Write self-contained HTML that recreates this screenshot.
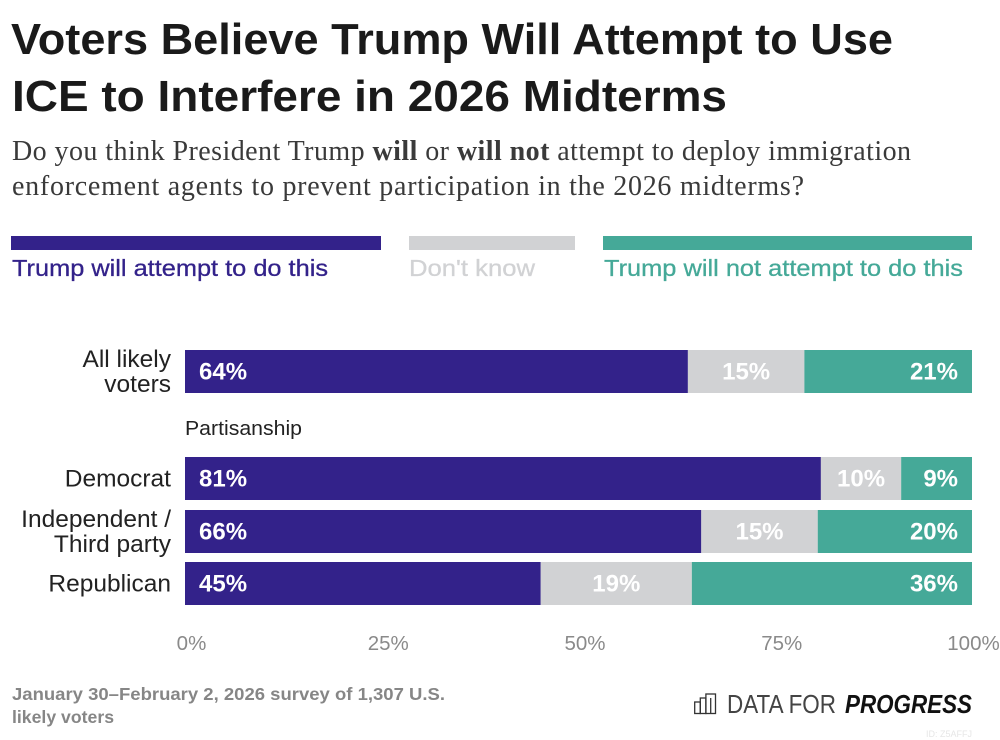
<!DOCTYPE html>
<html lang="en">
<head>
<meta charset="utf-8">
<title>Voters Believe Trump Will Attempt to Use ICE to Interfere in 2026 Midterms</title>
<style>
html,body{margin:0;padding:0;background:#fff;}
svg{display:block;font-family:"Liberation Sans",sans-serif;}
</style>
</head>
<body>
<svg id="chart" xmlns="http://www.w3.org/2000/svg" width="1000" height="740" viewBox="0 0 1000 740">
  <rect width="1000" height="740" fill="#fff"/>
  <text x="11" y="54" font-size="44" font-weight="700" fill="#1a1a1a" textLength="882" lengthAdjust="spacingAndGlyphs">Voters Believe Trump Will Attempt to Use</text>
  <text x="12" y="111" font-size="44" font-weight="700" fill="#1a1a1a" textLength="715" lengthAdjust="spacingAndGlyphs">ICE to Interfere in 2026 Midterms</text>
  <text x="12" y="160" font-family="'Liberation Serif',serif" font-size="28" fill="#3a3a3a" textLength="899" lengthAdjust="spacing">Do you think President Trump <tspan font-weight="700">will</tspan> or <tspan font-weight="700">will not</tspan> attempt to deploy immigration</text>
  <text x="12" y="195" font-family="'Liberation Serif',serif" font-size="28" fill="#3a3a3a" textLength="792" lengthAdjust="spacing">enforcement agents to prevent participation in the 2026 midterms?</text>

  <g id="legend">
    <rect x="11" y="236" width="370" height="14" fill="#33228a"/>
    <text x="12" y="276" font-size="23.5" fill="#33228a" stroke="#33228a" stroke-width="0.3" textLength="316" lengthAdjust="spacingAndGlyphs">Trump will attempt to do this</text>
    <rect x="409" y="236" width="166" height="14" fill="#d1d2d4"/>
    <text x="409" y="276" font-size="23.5" fill="#d1d2d4" stroke="#d1d2d4" stroke-width="0.3" textLength="126" lengthAdjust="spacingAndGlyphs">Don't know</text>
    <rect x="603" y="236" width="369" height="14" fill="#45a998"/>
    <text x="604" y="276" font-size="23.5" fill="#45a998" stroke="#45a998" stroke-width="0.3" textLength="359" lengthAdjust="spacingAndGlyphs">Trump will not attempt to do this</text>
  </g>

  <text x="185" y="435" font-size="20" fill="#222" textLength="117" lengthAdjust="spacingAndGlyphs">Partisanship</text>
  <g id="plot"></g>
  <g id="axis"></g>

  <text x="12" y="700" font-size="17.5" font-weight="700" fill="#868686" textLength="433" lengthAdjust="spacingAndGlyphs">January 30–February 2, 2026 survey of 1,307 U.S.</text>
  <text x="12" y="723" font-size="17.5" font-weight="700" fill="#868686" textLength="102" lengthAdjust="spacingAndGlyphs">likely voters</text>

  <g>
    <g fill="none" stroke="#333" stroke-width="1.3">
      <rect x="694.7" y="702" width="5.6" height="11.5"/>
      <rect x="700.3" y="698" width="5.6" height="15.5"/>
      <rect x="705.9" y="694" width="9.6" height="19.5"/>
      <line x1="710.7" y1="698" x2="710.7" y2="713.5"/>
    </g>
    <text x="727" y="713" font-size="26" fill="#444" textLength="109" lengthAdjust="spacingAndGlyphs">DATA FOR</text>
    <text x="845" y="713" font-size="26" font-weight="700" font-style="italic" fill="#111" textLength="127" lengthAdjust="spacingAndGlyphs">PROGRESS</text>
  </g>
  <text x="972" y="737" text-anchor="end" font-size="9" fill="#e6e6e6">ID: Z5AFFJ</text>
</svg>
<script>
// Chart data (percent of respondents)
const categories = ["All likely voters", "Democrat", "Independent / Third party", "Republican"];
const categoryLines = [["All likely", "voters"], ["Democrat"], ["Independent /", "Third party"], ["Republican"]];
const willAttempt = [63.9, 80.8, 65.6, 45.2];
const dontKnow = [14.8, 10.2, 14.8, 19.2];
const willNotAttempt = [21.3, 9.0, 19.6, 35.6];
const tickValues = [0, 25, 50, 75, 100];
const tickLabels = ["0%", "25%", "50%", "75%", "100%"];

const NS = "http://www.w3.org/2000/svg";
const PLOT_LEFT = 185, PLOT_RIGHT = 972, AXIS_MAX = 100;
const rowTops = { "All likely voters": 350, "Democrat": 457, "Independent / Third party": 510, "Republican": 562 };
const BAR_H = 43;
const seriesList = [
  { key: "will-attempt", values: willAttempt, color: "#33228a" },
  { key: "dont-know", values: dontKnow, color: "#d1d2d4" },
  { key: "will-not-attempt", values: willNotAttempt, color: "#45a998" }
];
function xScale(v) { return PLOT_LEFT + (v / AXIS_MAX) * (PLOT_RIGHT - PLOT_LEFT); }
function yScale(cat) { return rowTops[cat]; }
function make(tag, attrs, parent) {
  const el = document.createElementNS(NS, tag);
  for (const k in attrs) el.setAttribute(k, attrs[k]);
  parent.appendChild(el);
  return el;
}
const plot = document.getElementById("plot");
const axis = document.getElementById("axis");

categories.forEach(function (cat, i) {
  const top = yScale(cat);
  const mid = top + BAR_H / 2;
  const lines = categoryLines[i];
  lines.forEach(function (line, j) {
    const baseline = lines.length === 1 ? mid + 8 : mid - 4.5 + j * 25;
    const t = make("text", { x: 171, y: baseline, "text-anchor": "end", "font-size": 24.5, fill: "#222" }, plot);
    
    
    t.textContent = line;
  });
  let cum = 0;
  seriesList.forEach(function (s, k) {
    const v = s.values[i];
    const x0 = xScale(cum);
    const x1 = xScale(cum + v);
    const r = make("rect", { x: x0, y: top, width: x1 - x0, height: BAR_H, fill: s.color }, plot);
    
    
    const attrs = { y: mid + 8, "font-size": 24, "font-weight": 700, fill: "#fff" };
    if (k === 0) { attrs.x = x0 + 14; attrs["text-anchor"] = "start"; }
    else if (k === 1) { attrs.x = (x0 + x1) / 2; attrs["text-anchor"] = "middle"; }
    else { attrs.x = x1 - 14; attrs["text-anchor"] = "end"; }
    const lab = make("text", attrs, plot);
    
    
    lab.textContent = Math.round(v) + "%";
    cum += v;
  });
});

tickValues.forEach(function (v, i) {
  const x = Math.min(xScale(v) + 6.5, 973.5);
  const t = make("text", { x: x, y: 650, "text-anchor": "middle", "font-size": 20.5, fill: "#8a8a8a" }, axis);
  
  
  t.textContent = tickLabels[i];
});
</script>
</body>
</html>
